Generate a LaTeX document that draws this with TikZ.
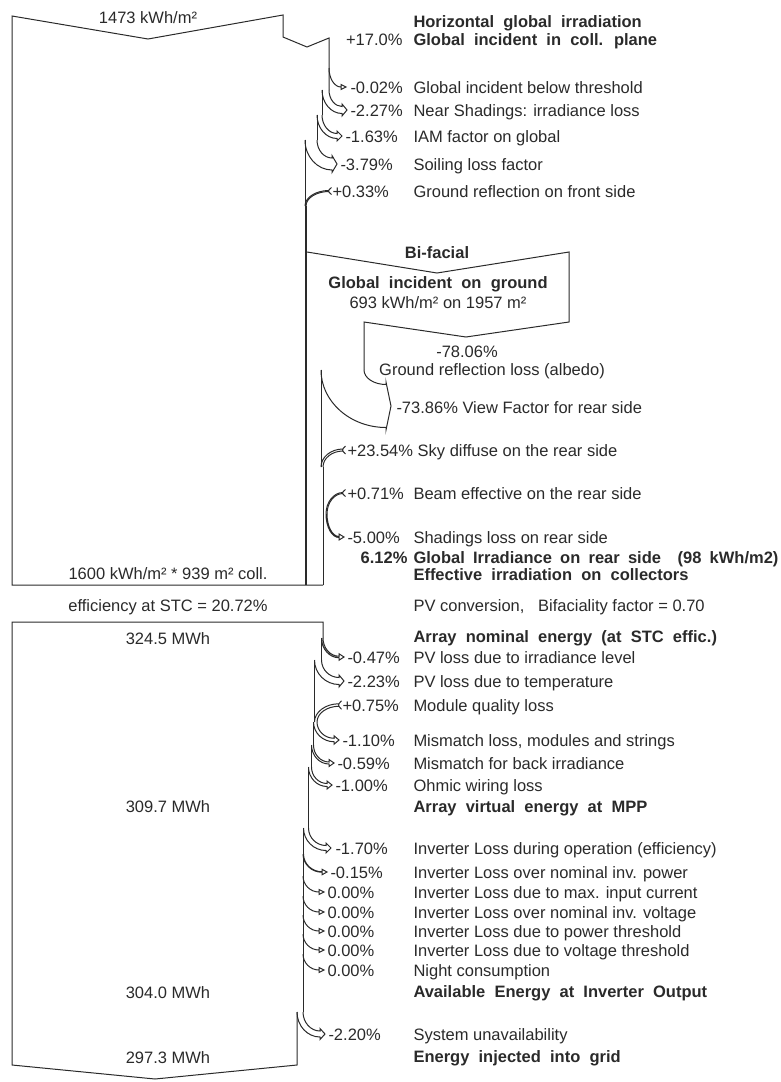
\documentclass[tikz,border=0pt]{standalone}
\usepackage{fontspec}
\setmainfont{Liberation Sans}
\usepackage{tikz}
\usetikzlibrary{calc}
\definecolor{ink}{HTML}{2A2A2A}
\newcommand\widesp{\spaceskip=0.556em\relax}
\newcommand\halfsp{\spaceskip=0.5em\relax}
% loss: edge x, width, start y, row y, tip x
\newcommand\lossarrow[5]{
  \pgfmathsetmacro\lsxb{#1-#2}
  \pgfmathsetmacro\lsyu{#4-#2/2}
  \pgfmathsetmacro\lsyl{#4+#2/2}
  \pgfmathsetmacro\lsxe{#5-5}
  \draw (#1,#3) .. controls (#1,{#3+0.55*(\lsyu-#3)}) and ({\lsxe-0.55*(\lsxe-#1)},\lsyu) .. (\lsxe,\lsyu)
    -- (\lsxe,\lsyu-2.5) -- (#5,#4) -- (\lsxe,\lsyl+2.5) -- (\lsxe,\lsyl)
    .. controls ({\lsxe-0.55*(\lsxe-\lsxb)},\lsyl) and (\lsxb,{#3+0.55*(\lsyl-#3)}) .. (\lsxb,#3);
}
% gain: edge x, width, row y, tail x, end y
\newcommand\gainarrow[5]{
  \pgfmathsetmacro\gnxb{#1+#2}
  \pgfmathsetmacro\gnyu{#3-#2/2}
  \pgfmathsetmacro\gnyl{#3+#2/2}
  \draw (#1,#5) .. controls (#1,{#5-0.55*(#5-\gnyu)}) and ({#4-0.55*(#4-#1)},\gnyu) .. (#4,\gnyu);
  \draw (\gnxb,#5) .. controls (\gnxb,{#5-0.55*(#5-\gnyl)}) and ({#4-0.55*(#4-\gnxb)},\gnyl) .. (#4,\gnyl);
  \draw (#4+2.5,\gnyu-3) .. controls (#4-1.5,#3) .. (#4+2.5,\gnyl+3);
}
\begin{document}
\begin{tikzpicture}[x=1pt,y=-1pt,line width=1pt,color=ink,
  txt/.style={anchor=base west,inner sep=0pt,font=\fontsize{16.5}{19}\selectfont},
  bold/.style={txt,font=\fontsize{16.5}{19}\selectfont\bfseries\widesp},
  mid/.style={txt,anchor=base}]
  \useasboundingbox (0,0) rectangle (780,1082);

  % front side
  \draw (329,90) -- (329,38) -- (307,47) -- (283,37) -- (283,15) -- (148,39) -- (12,16) -- (12,585) -- (323,585);
  \draw (322,90) -- (322,115);
  \draw (317,115) -- (317,140);
  \draw (305,140) -- (305,206);
  \draw[line width=2pt] (306,206) -- (306,585);
  \lossarrow{329}{0}{68}{87}{346}
  \lossarrow{329}{7}{90}{110}{347}
  \lossarrow{322}{5}{115}{136}{342}
  \lossarrow{317}{12}{140}{164}{337}
  \gainarrow{305}{1}{191}{329}{206}

  % rear side
  \draw (307,252) -- (437,273) -- (569,252) -- (569,322) -- (466,337) -- (364,322) -- (364,370);
  \lossarrow{364}{43}{370}{406}{391}
  \draw (321,370) -- (321,467);
  \gainarrow{321}{2}{450}{343}{467}
  \draw (323,467) -- (323,585);
  \gainarrow{326}{1}{493}{343}{514}
  \lossarrow{327}{1}{514}{537}{344}

  % array and inverter
  \draw (323,638) -- (323,622) -- (12,622) -- (12,1065) -- (155,1079) -- (297,1065) -- (297,1012);
  \draw (321.5,638) -- (321.5,660);
  \draw (314.5,660) -- (314.5,722);
  \draw (313.5,722) -- (313.5,745);
  \draw (311.5,745) -- (311.5,767);
  \draw (308.5,767) -- (308.5,828);
  \draw (303.5,828) -- (303.5,854);
  \draw (303,854) -- (303,1012);
  \lossarrow{323}{1.5}{638}{657}{344}
  \lossarrow{321.5}{7}{660}{681}{344}
  \gainarrow{314.5}{2.5}{705}{339}{722}
  \lossarrow{317}{3.5}{722}{740}{339}
  \lossarrow{313.5}{2}{745}{763}{334}
  \lossarrow{311.5}{3}{767}{785}{332}
  \lossarrow{308.5}{5}{828}{848}{331}
  \lossarrow{303.5}{0.5}{854}{872}{327}
  \lossarrow{303}{0}{876}{892}{324}
  \lossarrow{303}{0}{896}{912}{324}
  \lossarrow{303}{0}{915}{931}{324}
  \lossarrow{303}{0}{934}{950}{324}
  \lossarrow{303}{0}{954}{970}{324}
  \lossarrow{303}{6}{1012}{1034}{325}

  % left values
  \node[mid] (ghi) at (148,23) {1473 kWh/m²};
  \node[mid] (coll) at (168,579) {1600 kWh/m² * 939 m² coll.};
  \node[mid] (stc) at (168,611) {efficiency at STC = 20.72\%};
  \node[mid] (enom) at (168,644) {324.5 MWh};
  \node[mid] (empp) at (168,812) {309.7 MWh};
  \node[mid] (einv) at (168,998) {304.0 MWh};
  \node[mid] (egrid) at (168,1063) {297.3 MWh};

  % front side labels
  \node[bold] (hgi) at (413,27) {Horizontal global irradiation};
  \node[txt,anchor=base east] (gicpv) at (403,45) {+17.0\%};
  \node[bold] (gicp) at (413,45) {Global incident in coll. plane};
  \node[txt] (thrv) at (350,93) {-0.02\%};
  \node[txt] (thr) at (413,93) {Global incident below threshold};
  \node[txt] (nearv) at (350,116) {-2.27\%};
  \node[txt] (near) at (413,116) {Near Shadings: irradiance loss};
  \node[txt] (iamv) at (345,142) {-1.63\%};
  \node[txt] (iam) at (413,142) {IAM factor on global};
  \node[txt] (soilv) at (340,170) {-3.79\%};
  \node[txt] (soil) at (413,170) {Soiling loss factor};
  \node[txt] (frontv) at (332,197) {+0.33\%};
  \node[txt] (front) at (413,197) {Ground reflection on front side};

  % rear side labels
  \node[mid,font=\fontsize{16.5}{19}\selectfont\bfseries] (bif) at (437,258) {Bi-facial};
  \node[mid,font=\fontsize{16.5}{19}\selectfont\bfseries\widesp] (gig) at (438,288) {Global incident on ground};
  \node[mid] (gigv) at (438,308) {693 kWh/m² on 1957 m²};
  \node[mid] (albv) at (467,357) {-78.06\%};
  \node[mid] (alb) at (492,375) {Ground reflection loss (albedo)};
  \node[txt] (vf) at (396,413) {-73.86\% View Factor for rear side};
  \node[txt] (sky) at (347,456) {+23.54\% Sky diffuse on the rear side};
  \node[txt] (beamv) at (347,499) {+0.71\%};
  \node[txt] (beam) at (413,499) {Beam effective on the rear side};
  \node[txt] (shdv) at (347,543) {-5.00\%};
  \node[txt] (shd) at (413,543) {Shadings loss on rear side};
  \node[bold,anchor=base east] (rearv) at (408,563) {6.12\%};
  \node[bold,font=\fontsize{16.5}{19}\selectfont\bfseries\halfsp] (rear) at (413,563) {Global Irradiance on rear side \ (98 kWh/m2)};
  \node[bold] (eff) at (413,580) {Effective irradiation on collectors};
  \node[txt] (pvc) at (413,611) {PV conversion,\ \ \ Bifaciality factor = 0.70};
  \node[bold] (nom) at (413,642) {Array nominal energy (at STC effic.)};

  % array labels
  \node[txt] (irrv) at (347,663) {-0.47\%};
  \node[txt] (irr) at (413,663) {PV loss due to irradiance level};
  \node[txt] (tempv) at (347,687) {-2.23\%};
  \node[txt] (temp) at (413,687) {PV loss due to temperature};
  \node[txt] (qualv) at (342,711) {+0.75\%};
  \node[txt] (qual) at (413,711) {Module quality loss};
  \node[txt] (mismv) at (342,746) {-1.10\%};
  \node[txt] (mism) at (413,746) {Mismatch loss, modules and strings};
  \node[txt] (backv) at (337,769) {-0.59\%};
  \node[txt] (back) at (413,769) {Mismatch for back irradiance};
  \node[txt] (ohmv) at (335,791) {-1.00\%};
  \node[txt] (ohm) at (413,791) {Ohmic wiring loss};
  \node[bold] (mpp) at (413,812) {Array virtual energy at MPP};

  % inverter labels
  \node[txt] (opv) at (335,854) {-1.70\%};
  \node[txt] (op) at (413,854) {Inverter Loss during operation (efficiency)};
  \node[txt] (pnomv) at (330,878) {-0.15\%};
  \node[txt] (pnom) at (413,878) {Inverter Loss over nominal inv. power};
  \node[txt] (imaxv) at (327,898) {0.00\%};
  \node[txt] (imax) at (413,898) {Inverter Loss due to max. input current};
  \node[txt] (vnomv) at (327,918) {0.00\%};
  \node[txt] (vnom) at (413,918) {Inverter Loss over nominal inv. voltage};
  \node[txt] (pthrv) at (327,937) {0.00\%};
  \node[txt] (pthr) at (413,937) {Inverter Loss due to power threshold};
  \node[txt] (vthrv) at (327,956) {0.00\%};
  \node[txt] (vthr) at (413,956) {Inverter Loss due to voltage threshold};
  \node[txt] (nightv) at (327,976) {0.00\%};
  \node[txt] (night) at (413,976) {Night consumption};
  \node[bold] (inv) at (413,997) {Available Energy at Inverter Output};
  \node[txt] (unavv) at (328,1040) {-2.20\%};
  \node[txt] (unav) at (413,1040) {System unavailability};
  \node[bold] (grid) at (413,1062) {Energy injected into grid};
\end{tikzpicture}
\end{document}
